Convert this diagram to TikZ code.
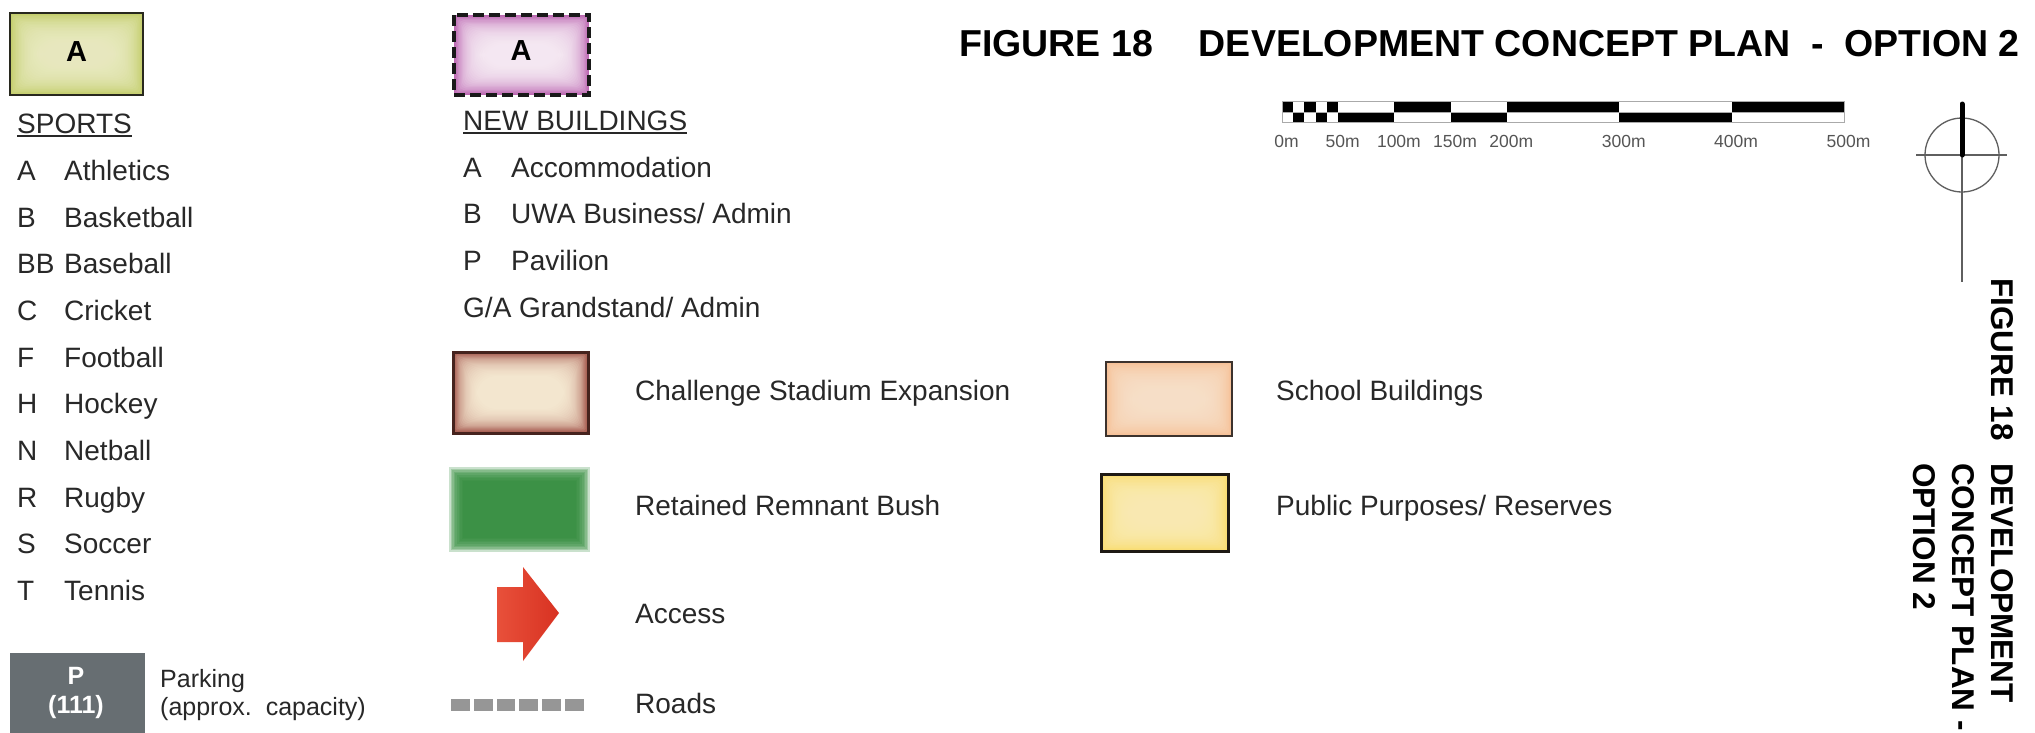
\documentclass[tikz,border=0pt]{standalone}
\usepackage{fontspec}
\setmainfont{Liberation Sans}

\definecolor{ink}{RGB}{40,40,40}
\definecolor{sportout}{RGB}{196,206,108}
\definecolor{sportin}{RGB}{240,240,204}
\definecolor{newout}{RGB}{188,104,178}
\definecolor{newin}{RGB}{253,246,252}
\definecolor{stadout}{RGB}{160,80,70}
\definecolor{stadin}{RGB}{254,246,222}
\definecolor{stadedge}{RGB}{70,35,30}
\definecolor{schoolout}{RGB}{246,192,150}
\definecolor{schoolin}{RGB}{253,230,208}
\definecolor{publicout}{RGB}{249,220,112}
\definecolor{publicin}{RGB}{253,240,188}
\definecolor{bush}{RGB}{52,142,62}
\definecolor{accessred}{RGB}{216,50,34}
\definecolor{accesslight}{RGB}{232,80,58}
\definecolor{roadgray}{RGB}{150,150,150}
\definecolor{parkgray}{RGB}{103,110,114}
\definecolor{scalegray}{RGB}{85,85,85}
\definecolor{barline}{RGB}{170,170,170}
\definecolor{compassgray}{RGB}{95,95,95}

% soft-centred legend swatch:
% x1,y1,x2,y2, outer colour, inner colour, inset step, layers, layer opacity
\newcommand\swatchglow[9]{%
  \fill[#5] (#1,#2) rectangle (#3,#4);
  \foreach \k in {1,...,#8}{%
    \fill[#6, opacity=#9, rounded corners={\k*#7*0.8}] ({#1+\k*#7},{#2+\k*#7}) rectangle ({#3-\k*#7},{#4-\k*#7});
  }%
}

\tikzset{
  txt/.style={inner sep=0pt, anchor=base west, text=ink, font=\fontsize{28}{34}\selectfont},
  smalltxt/.style={txt, font=\fontsize{25}{30}\selectfont},
  boxletter/.style={inner sep=0pt, anchor=base, text=black, font=\fontsize{29}{34}\selectfont\bfseries},
  parkletter/.style={inner sep=0pt, anchor=base, text=white, font=\fontsize{25}{30}\selectfont\bfseries},
  headline/.style={inner sep=0pt, text=black, font=\fontsize{37.5}{44}\selectfont\bfseries},
  sidehead/.style={inner sep=0pt, anchor=base west, rotate=-90, text=black, font=\fontsize{31.5}{38}\selectfont\bfseries},
  scalelbl/.style={inner sep=0pt, anchor=base, text=scalegray, font=\fontsize{17.5}{20}\selectfont},
  compass/.style={draw=compassgray, line width=1.3pt},
  underl/.style={draw=ink, line width=1.5pt},
}

\begin{document}
\begin{tikzpicture}[x=1pt,y=-1pt]
\clip (0,0) rectangle (2035,732);
\fill[white] (0,0) rectangle (2035,732);

% ---------- sports swatch and list ----------
\swatchglow{10}{13}{143}{95}{sportout}{sportin}{1.5}{20}{0.11}
\draw[line width=2.5pt, draw={rgb,255:red,40;green,40;blue,30}] (10,13) rectangle (143,95);
\node[boxletter] (sportA) at (76.5,61) {A};

\node[txt] (sports) at (17,133) {SPORTS};
\draw[underl] ([yshift=-3pt]sports.base west) -- ([yshift=-3pt]sports.base east);
\foreach \l/\n [count=\i from 0] in {A/Athletics, B/Basketball, BB/Baseball, C/Cricket, F/Football, H/Hockey, N/Netball, R/Rugby, S/Soccer, T/Tennis}{
  \node[txt] (sl\i) at (17,{180.5+46.67*\i}) {\l};
  \node[txt] (sn\i) at (64,{180.5+46.67*\i}) {\n};
}

% ---------- parking ----------
\fill[parkgray] (10,653) rectangle (145,740);
\node[parkletter] (pkP) at (76,684) {P};
\node[parkletter] (pkN) at (76,713) {(111)};
\node[smalltxt] (pkt1) at (160,687) {Parking};
\node[smalltxt] (pkt2) at (160,715) {(approx.\ \ capacity)};

% ---------- new buildings swatch and list ----------
\swatchglow{454}{15}{589}{95}{newout}{newin}{1.3}{22}{0.11}
\draw[line width=4pt, dash pattern=on 11pt off 5pt, draw=black!90] (454,15) rectangle (589,95);
\node[boxletter] (newA) at (521,60) {A};

\node[txt] (newb) at (463,130) {NEW BUILDINGS};
\draw[underl] ([yshift=-3pt]newb.base west) -- ([yshift=-3pt]newb.base east);
\node[txt] (nbA) at (463,177) {A};
\node[txt] (nbAn) at (511,177) {Accommodation};
\node[txt] (nbB) at (463,223.7) {B};
\node[txt] (nbBn) at (511,223.7) {UWA Business/ Admin};
\node[txt] (nbP) at (463,270.3) {P};
\node[txt] (nbPn) at (511,270.3) {Pavilion};
\node[txt] (nbG) at (463,317) {G/A Grandstand/ Admin};

% ---------- land use legend ----------
\swatchglow{453}{352}{588}{433}{stadout}{stadin}{1.2}{20}{0.12}
\draw[line width=3pt, draw=stadedge] (453,352) rectangle (588,433);
\node[txt] (stad) at (635,400) {Challenge Stadium Expansion};

\foreach \k in {0,...,9}{
  \fill[bush, opacity=0.26] ({455-6+\k*1.6},{473-6+\k*1.6}) rectangle ({584+6-\k*1.6},{546+6-\k*1.6});
}
\node[txt] (bushl) at (635,515) {Retained Remnant Bush};

\shade[left color=accesslight, right color=accessred]
  (497,587) -- (523,587) -- (523,567) -- (559,613) -- (523,661) -- (523,642) -- (497,642) -- cycle;
\node[txt] (access) at (635,623) {Access};

\foreach \i in {0,...,5}{
  \fill[roadgray] ({451+\i*22.8},699) rectangle ({451+\i*22.8+18.8},711);
}
\node[txt] (roads) at (635,713) {Roads};

\swatchglow{1106}{362}{1232}{436}{schoolout}{schoolin}{1.5}{18}{0.12}
\draw[line width=2.5pt, draw={rgb,255:red,60;green,50;blue,45}] (1106,362) rectangle (1232,436);
\node[txt] (school) at (1276,400) {School Buildings};

\swatchglow{1101}{474}{1228}{551}{publicout}{publicin}{1.5}{18}{0.12}
\draw[line width=3pt, draw={rgb,255:red,30;green,25;blue,20}] (1101,474) rectangle (1228,551);
\node[txt] (public) at (1276,515) {Public Purposes/ Reserves};

% ---------- heading ----------
\node[headline, anchor=base west] (figno) at (959,56) {FIGURE 18};
\node[headline, anchor=base east] (figtitle) at (2020,56) {DEVELOPMENT CONCEPT PLAN\ \ -\ \ OPTION 2};

% ---------- scale bar (1.124 px per metre) ----------
\foreach \a/\b in {0/10, 20/30, 40/50, 100/150, 200/300, 400/500}{
  \fill[black] ({1282+1.124*\a},101.5) rectangle ({1282+1.124*\b},112);
}
\foreach \a/\b in {10/20, 30/40, 50/100, 150/200, 300/400}{
  \fill[black] ({1282+1.124*\a},112) rectangle ({1282+1.124*\b},122.5);
}
\draw[barline, line width=1pt] (1282,101.5) rectangle (1844,122.5);
\draw[barline, line width=1pt] (1282,112) -- (1844,112);
\foreach \m in {0,50,100,150,200,300,400,500}{
  \node[scalelbl] (sc\m) at ({1282+1.124*\m+4.5},147) {\m m};
}

% ---------- north point ----------
\coordinate (nc) at (1962,155);
\coordinate (nw) at (1916,155);
\coordinate (ne) at (2007,155);
\coordinate (ntop) at (1962,104);
\coordinate (nfoot) at (1962,282);
\draw[compass] (nc) circle[radius=37];
\draw[compass] (nw) -- (ne);
\draw[compass] (nc) -- (nfoot);
\draw[line width=5pt, line cap=round] (ntop) -- (nc);

% ---------- side heading ----------
\node[sidehead] (side1) at (1991.7,278) {FIGURE 18};
\node[sidehead] (side2) at (1991.7,463) {DEVELOPMENT};
\node[sidehead] (side3) at (1952,463) {CONCEPT PLAN -};
\node[sidehead] (side4) at (1913,463) {OPTION 2};
\end{tikzpicture}
\end{document}
